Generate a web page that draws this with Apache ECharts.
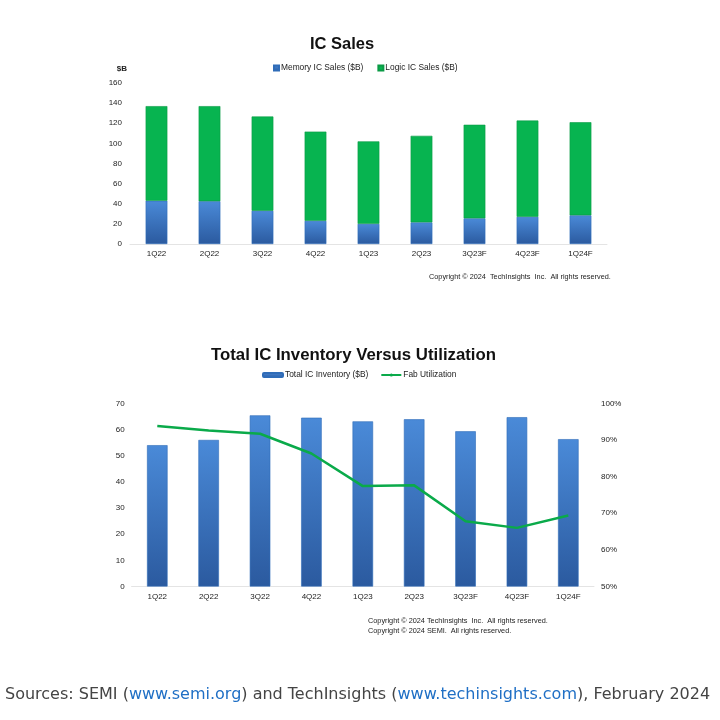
<!DOCTYPE html>
<html>
<head>
<meta charset="utf-8">
<script src="https://cdn.jsdelivr.net/npm/echarts@6/dist/echarts.min.js"></script>
<style>
html,body{margin:0;padding:0;background:#fff;}
#main{width:720px;height:720px;}
</style>
</head>
<body>
<div id="main"></div>
<script>
const categories = ['1Q22','2Q22','3Q22','4Q22','1Q23','2Q23','3Q23F','4Q23F','1Q24F'];
const memorySales = [43, 42.5, 33, 23, 20, 21.5, 25.5, 27, 28.5];
const logicSales = [94, 94.5, 93.7, 88.7, 82, 86, 93, 95.7, 92.5];
const inventory = [54, 56, 65.4, 64.5, 63.1, 63.9, 59.3, 64.7, 56.3];
const fabUtilization = [93.8, 92.6, 91.7, 86.3, 77.4, 77.6, 67.8, 66, 69.4];
const salesTicks = [0, 20, 40, 60, 80, 100, 120, 140, 160];
const inventoryTicks = [0, 10, 20, 30, 40, 50, 60, 70];
const utilTicks = [50, 60, 70, 80, 90, 100];

const FONT = 'Liberation Sans';
const blueGrad = new echarts.graphic.LinearGradient(0,0,0,1,[
  {offset:0,color:'#4a8ad8'},{offset:1,color:'#2b5a9f'}]);
const blueGrad2 = new echarts.graphic.LinearGradient(0,0,0,1,[
  {offset:0,color:'#4a8ad8'},{offset:1,color:'#2b5a9f'}]);
const greenCol = '#07b450';

const axisLabelStyle = {color:'#222', fontSize:8, fontFamily:FONT};

const chart = echarts.init(document.getElementById('main'));
chart.setOption({
  animation:false,
  textStyle:{fontFamily:FONT},
  title:[
    {text:'IC Sales', left:305, top:31,
      textStyle:{fontSize:16.5, fontWeight:'bold', color:'#111', fontFamily:FONT}},
    {text:'Total IC Inventory Versus Utilization', left:206, top:342,
      textStyle:{fontSize:16.8, fontWeight:'bold', color:'#111', fontFamily:FONT}}
  ],
  legend:[
    {data:['Memory IC Sales ($B)','Logic IC Sales ($B)'], left:268, top:59, itemWidth:5, itemHeight:5,
      itemGap:14, textStyle:{fontSize:8.4, color:'#222', fontFamily:FONT, padding:[0,0,0,-3]}, icon:'rect'},
    {data:['Total IC Inventory ($B)','Fab Utilization'], left:257, top:366, itemWidth:20, itemHeight:4,
      itemGap:12, textStyle:{fontSize:8.4, color:'#222', fontFamily:FONT, padding:[0,0,0,-3]}}
  ],
  grid:[
    {left:130, right:113, top:83, bottom:476},
    {left:131.6, right:126, top:403.3, bottom:133.5}
  ],
  xAxis:[
    {type:'category', gridIndex:0, data:categories,
      axisLine:{lineStyle:{color:'#e4e4e4'}}, axisTick:{show:false},
      axisLabel:{...axisLabelStyle, margin:6}},
    {type:'category', gridIndex:1, data:categories,
      axisLine:{lineStyle:{color:'#e4e4e4'}}, axisTick:{show:false},
      axisLabel:{...axisLabelStyle, margin:6}}
  ],
  yAxis:[
    {type:'value', gridIndex:0, min:salesTicks[0], max:salesTicks[salesTicks.length-1], interval:20,
      name:'$B', nameLocation:'end', nameGap:10, nameTextStyle:{fontSize:8, fontWeight:'bold', color:'#222', align:'right', padding:[0,3,0,0]},
      axisLine:{show:false}, axisTick:{show:false}, splitLine:{show:false},
      axisLabel:{...axisLabelStyle, margin:8}},
    {type:'value', gridIndex:1, min:inventoryTicks[0], max:inventoryTicks[inventoryTicks.length-1], interval:10,
      axisLine:{show:false}, axisTick:{show:false}, splitLine:{show:false},
      axisLabel:{...axisLabelStyle, margin:7}},
    {type:'value', gridIndex:1, position:'right', min:utilTicks[0], max:utilTicks[utilTicks.length-1], interval:10,
      axisLine:{show:false}, axisTick:{show:false}, splitLine:{show:false},
      axisLabel:{...axisLabelStyle, margin:7, align:'left', formatter:'{value}%'}}
  ],
  series:[
    {name:'Memory IC Sales ($B)', type:'bar', stack:'sales', xAxisIndex:0, yAxisIndex:0, data:memorySales,
      barWidth:'41%', itemStyle:{color:blueGrad, borderColor:'#2f6cb8', borderWidth:0.6}},
    {name:'Logic IC Sales ($B)', type:'bar', stack:'sales', xAxisIndex:0, yAxisIndex:0, data:logicSales,
      barWidth:'41%', itemStyle:{color:greenCol, borderColor:'#0a9a45', borderWidth:0.6}},
    {name:'Total IC Inventory ($B)', type:'bar', xAxisIndex:1, yAxisIndex:1, data:inventory,
      barWidth:'40%', itemStyle:{color:blueGrad2, borderColor:'#2f6cb8', borderWidth:0.6}},
    {name:'Fab Utilization', type:'line', xAxisIndex:1, yAxisIndex:2, data:fabUtilization,
      symbol:'none', lineStyle:{color:'#0aaa4a', width:2.5}, itemStyle:{color:'#0aaa4a'}}
  ],
  graphic:[
    {type:'text', left:429, top:273, style:{text:'Copyright \u00a9 2024  TechInsights  Inc.  All rights reserved.', fontSize:7.3, fill:'#222', fontFamily:FONT}},
    {type:'text', left:368, top:617, style:{text:'Copyright \u00a9 2024 TechInsights  Inc.  All rights reserved.', fontSize:7.3, fill:'#222', fontFamily:FONT}},
    {type:'text', left:368, top:627, style:{text:'Copyright \u00a9 2024 SEMI.  All rights reserved.', fontSize:7.3, fill:'#222', fontFamily:FONT}},
    {type:'text', left:5, top:687, style:{
      text:'Sources: SEMI ({l|www.semi.org}) and TechInsights ({l|www.techinsights.com}), February 2024',
      fontSize:16, fill:'#444', fontFamily:'DejaVu Sans',
      rich:{l:{fontSize:16, fill:'#1f6fc5', fontFamily:'DejaVu Sans'}}}}
  ]
});
</script>
</body>
</html>
